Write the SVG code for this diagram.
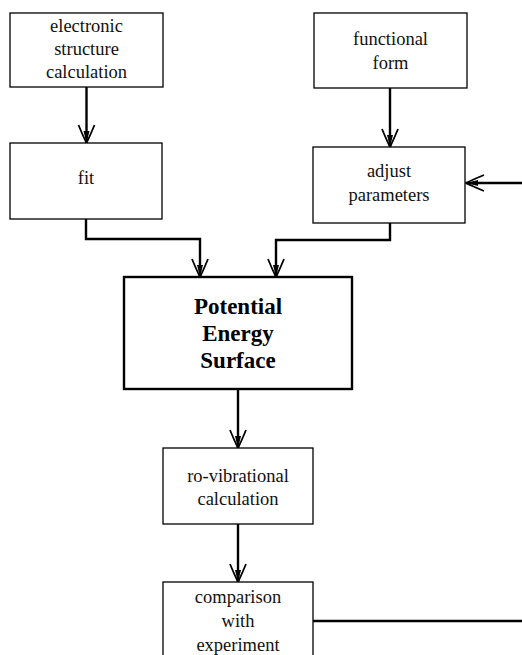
<svg xmlns="http://www.w3.org/2000/svg" width="522" height="655" viewBox="0 0 522 655">
<style>
.box{fill:#fff;stroke:#000;stroke-width:1.3}
.big{fill:#fff;stroke:#000;stroke-width:2.4}
.t{font-family:"Liberation Serif","Times New Roman",serif;font-size:18.5px;fill:#111;text-anchor:middle}
.b{font-family:"Liberation Serif","Times New Roman",serif;font-size:23px;font-weight:bold;fill:#000;text-anchor:middle}
.c{fill:none;stroke:#000;stroke-width:2.4}
</style>
<defs>
<marker id="ah" markerUnits="userSpaceOnUse" viewBox="-20 -10 22 20" markerWidth="22" markerHeight="20" refX="0" refY="0" orient="auto">
<path d="M-18,-8 Q-6,-3 0,0 Q-6,3 -18,8" fill="none" stroke="#000" stroke-width="1.8"/>
<path d="M-12,-3 L0,0 L-12,3 Z" fill="#000"/>
</marker>
</defs>
<rect width="522" height="655" fill="#fff"/>
<g id="connectors">
<path class="c" d="M86.5,87 V143" marker-end="url(#ah)"/>
<path class="c" d="M390,88 V147" marker-end="url(#ah)"/>
<path class="c" d="M86,219 V239 H200 V277" marker-end="url(#ah)"/>
<path class="c" d="M390,223 V240 H276 V277" marker-end="url(#ah)"/>
<path class="c" d="M238,389 V448" marker-end="url(#ah)"/>
<path class="c" d="M238,524 V582" marker-end="url(#ah)"/>
<path class="c" d="M522,183 H466" marker-end="url(#ah)"/>
<path class="c" d="M313,621 H522"/>
</g>
<g id="electronic">
<rect class="box" x="10" y="13" width="153" height="74"/>
<text class="t" x="86.5" y="32">electronic</text>
<text class="t" x="86.5" y="55">structure</text>
<text class="t" x="86.5" y="78">calculation</text>
</g>
<g id="functional">
<rect class="box" x="314" y="13" width="153" height="75"/>
<text class="t" x="390.5" y="45">functional</text>
<text class="t" x="390.5" y="69">form</text>
</g>
<g id="fit">
<rect class="box" x="10" y="143" width="152" height="76"/>
<text class="t" x="86" y="184">fit</text>
</g>
<g id="adjust">
<rect class="box" x="313" y="147" width="152" height="76"/>
<text class="t" x="389" y="177">adjust</text>
<text class="t" x="389" y="201">parameters</text>
</g>
<g id="pes">
<rect class="big" x="124" y="277" width="228" height="112"/>
<text class="b" x="238" y="314">Potential</text>
<text class="b" x="238" y="341">Energy</text>
<text class="b" x="238" y="368">Surface</text>
</g>
<g id="rovib">
<rect class="box" x="163" y="448" width="150" height="76"/>
<text class="t" x="238" y="482">ro-vibrational</text>
<text class="t" x="238" y="505">calculation</text>
</g>
<g id="comparison">
<rect class="box" x="163" y="582" width="150" height="90"/>
<text class="t" x="238" y="603">comparison</text>
<text class="t" x="238" y="627">with</text>
<text class="t" x="238" y="651">experiment</text>
</g>
</svg>
